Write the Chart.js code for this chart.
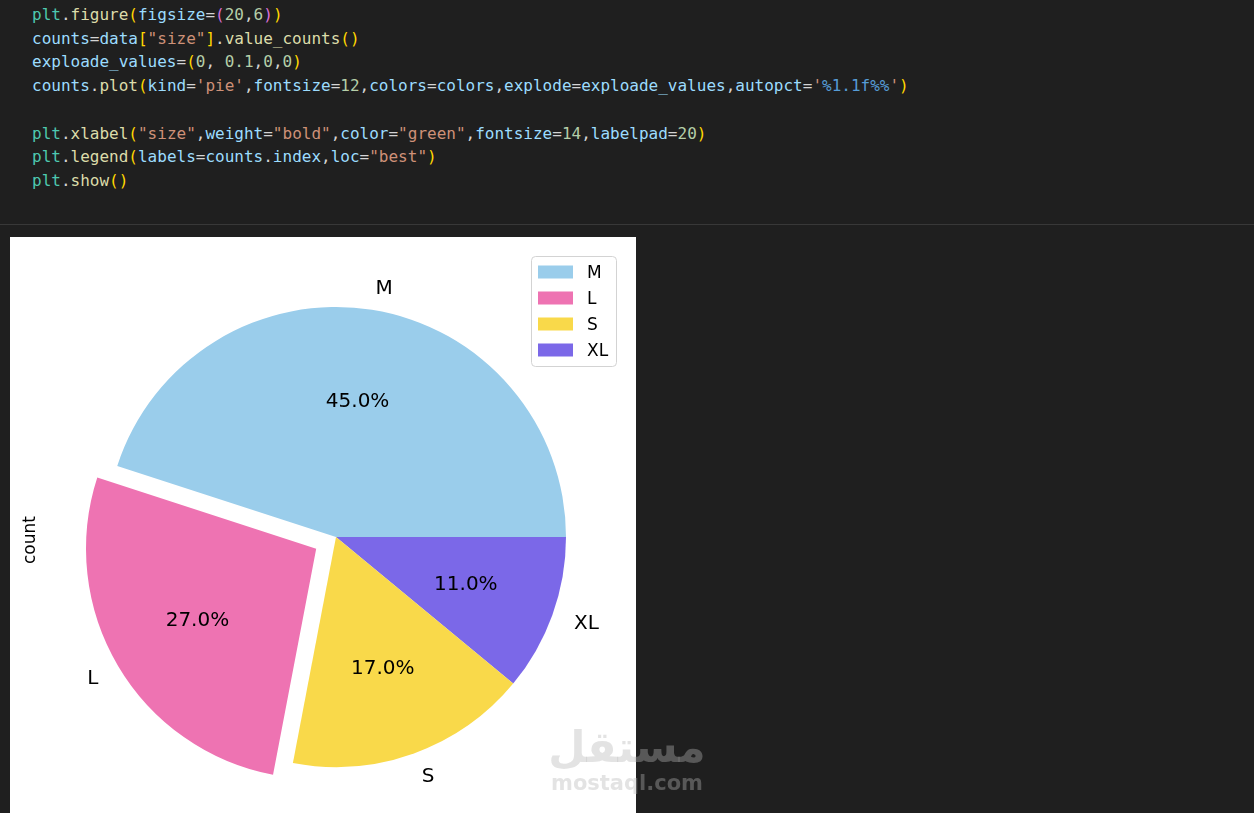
<!DOCTYPE html>
<html>
<head>
<meta charset="utf-8">
<script src="https://cdn.jsdelivr.net/npm/chart.js@4/dist/chart.umd.min.js"></script>
<style>
  html, body { margin: 0; padding: 0; }
  body { width: 1254px; height: 813px; background: #1f1f1f; position: relative; overflow: hidden; }
  #code {
    position: absolute; left: 32px; top: 3px; margin: 0;
    font-family: "DejaVu Sans Mono", "Liberation Mono", monospace;
    font-size: 16px; line-height: 23.7px; color: #d4d4d4; white-space: pre;
  }
  #sep { position: absolute; left: 0; top: 224px; width: 1254px; height: 1px; background: #383838; }
  #figure { position: absolute; left: 10px; top: 237px; width: 626px; height: 576px; background: #fff; }
  #watermark {
    position: absolute; left: 548px; top: 724px; width: 158px; text-align: center;
    color: rgba(181, 181, 181, 0.38); font-family: "DejaVu Sans", sans-serif; font-weight: bold;
  }
  #watermark .ar { font-size: 43px; line-height: 46px; }
  #watermark .en { font-size: 21px; line-height: 26px; }
  .m { color: #4ec9b0; } .f { color: #dcdcaa; } .v { color: #9cdcfe; }
  .n { color: #b5cea8; } .s { color: #ce9178; } .b1 { color: #ffd700; }
  .b2 { color: #da70d6; } .fmt { color: #569cd6; }
</style>
</head>
<body>
<pre id="code"><span class="m">plt</span>.<span class="f">figure</span><span class="b1">(</span><span class="v">figsize</span>=<span class="b2">(</span><span class="n">20</span>,<span class="n">6</span><span class="b2">)</span><span class="b1">)</span>
<span class="v">counts</span>=<span class="v">data</span><span class="b1">[</span><span class="s">"size"</span><span class="b1">]</span>.<span class="f">value_counts</span><span class="b1">()</span>
<span class="v">exploade_values</span>=<span class="b1">(</span><span class="n">0</span>, <span class="n">0.1</span>,<span class="n">0</span>,<span class="n">0</span><span class="b1">)</span>
<span class="v">counts</span>.<span class="f">plot</span><span class="b1">(</span><span class="v">kind</span>=<span class="s">'pie'</span>,<span class="v">fontsize</span>=<span class="n">12</span>,<span class="v">colors</span>=<span class="v">colors</span>,<span class="v">explode</span>=<span class="v">exploade_values</span>,<span class="v">autopct</span>=<span class="s">'</span><span class="fmt">%1.1f%%</span><span class="s">'</span><span class="b1">)</span>

<span class="m">plt</span>.<span class="f">xlabel</span><span class="b1">(</span><span class="s">"size"</span>,<span class="v">weight</span>=<span class="s">"bold"</span>,<span class="v">color</span>=<span class="s">"green"</span>,<span class="v">fontsize</span>=<span class="n">14</span>,<span class="v">labelpad</span>=<span class="n">20</span><span class="b1">)</span>
<span class="m">plt</span>.<span class="f">legend</span><span class="b1">(</span><span class="v">labels</span>=<span class="v">counts</span>.<span class="v">index</span>,<span class="v">loc</span>=<span class="s">"best"</span><span class="b1">)</span>
<span class="m">plt</span>.<span class="f">show</span><span class="b1">()</span></pre>
<div id="sep"></div>
<div id="figure"><canvas id="pieChart" width="626" height="576"></canvas></div>
<div id="watermark"><div class="ar">مستقل</div><div class="en">mostaql.com</div></div>

<script>
// values (matplotlib order, counter-clockwise from 3 o'clock)
const sizeLabels = ["M", "L", "S", "XL"];
const sizePercents = [45.0, 27.0, 17.0, 11.0];
const explodeValues = [0, 0.1, 0, 0];
const sliceColors = ["#9acdeb", "#ee73b2", "#f9d94a", "#7b68e8"];

const pieRadius = 230;

// chart.js draws clockwise, so feed it reversed and start at 3 o'clock
const chartLabels = [...sizeLabels].reverse();
const chartValues = [...sizePercents].reverse();
const chartColors = [...sliceColors].reverse();
// arc offset is divided by 4 inside ArcElement.draw
const chartOffsets = [...explodeValues].reverse().map((e) => e * pieRadius * 4);
const chartExplode = [...explodeValues].reverse();

const pieTextPlugin = {
  id: "pieText",
  afterDatasetsDraw(chart) {
    const ctx = chart.ctx;
    const arcs = chart.getDatasetMeta(0).data;
    const dy = 1.5; // matplotlib centres a bit lower than canvas "middle"
    ctx.save();
    ctx.fillStyle = "#000";
    ctx.font = "20px 'DejaVu Sans'";
    ctx.textBaseline = "middle";
    arcs.forEach((arc, i) => {
      const mid = (arc.startAngle + arc.endAngle) / 2;
      const R = arc.outerRadius;
      const shift = chartExplode[i] * R;
      const cx = arc.x + Math.cos(mid) * shift;
      const cy = arc.y + Math.sin(mid) * shift + dy;

      ctx.textAlign = Math.cos(mid) > 0 ? "left" : "right";
      ctx.fillText(chartLabels[i], cx + Math.cos(mid) * R * 1.1, cy + Math.sin(mid) * R * 1.1);

      ctx.textAlign = "center";
      ctx.fillText(chartValues[i].toFixed(1) + "%", cx + Math.cos(mid) * R * 0.6, cy + Math.sin(mid) * R * 0.6);
    });

    // y label
    ctx.save();
    ctx.translate(21, 303);
    ctx.rotate(-Math.PI / 2);
    ctx.font = "17px 'DejaVu Sans'";
    ctx.textAlign = "center";
    ctx.fillText("count", 0, 0);
    ctx.restore();

    // legend box, matplotlib style
    const lx = 521.5, ly = 19.5, lw = 85, lh = 110, rr = 4;
    ctx.beginPath();
    ctx.moveTo(lx + rr, ly);
    ctx.arcTo(lx + lw, ly, lx + lw, ly + lh, rr);
    ctx.arcTo(lx + lw, ly + lh, lx, ly + lh, rr);
    ctx.arcTo(lx, ly + lh, lx, ly, rr);
    ctx.arcTo(lx, ly, lx + lw, ly, rr);
    ctx.closePath();
    ctx.fillStyle = "rgba(255,255,255,0.8)";
    ctx.fill();
    ctx.strokeStyle = "#d3d3d3";
    ctx.lineWidth = 1;
    ctx.stroke();

    ctx.font = "17px 'DejaVu Sans'";
    ctx.textAlign = "left";
    sizeLabels.forEach((lab, i) => {
      const rowY = 35 + i * 26;
      ctx.fillStyle = sliceColors[i];
      ctx.fillRect(528, rowY - 6.5, 35, 13);
      ctx.fillStyle = "#000";
      ctx.fillText(lab, 577, rowY + 1.5);
    });
    ctx.restore();
  },
};

const pieChart = new Chart(document.getElementById("pieChart").getContext("2d"), {
  type: "pie",
  data: {
    labels: chartLabels,
    datasets: [
      {
        data: chartValues,
        backgroundColor: chartColors,
        borderWidth: 0,
        offset: chartOffsets,
        hoverOffset: 0,
        radius: pieRadius,
      },
    ],
  },
  options: {
    responsive: false,
    animation: false,
    devicePixelRatio: 1,
    rotation: 90,
    layout: { padding: { left: 26, top: 24, right: 0, bottom: 0 } },
    plugins: {
      legend: { display: false },
      tooltip: { enabled: false },
    },
  },
  plugins: [pieTextPlugin],
});
</script>
</body>
</html>
